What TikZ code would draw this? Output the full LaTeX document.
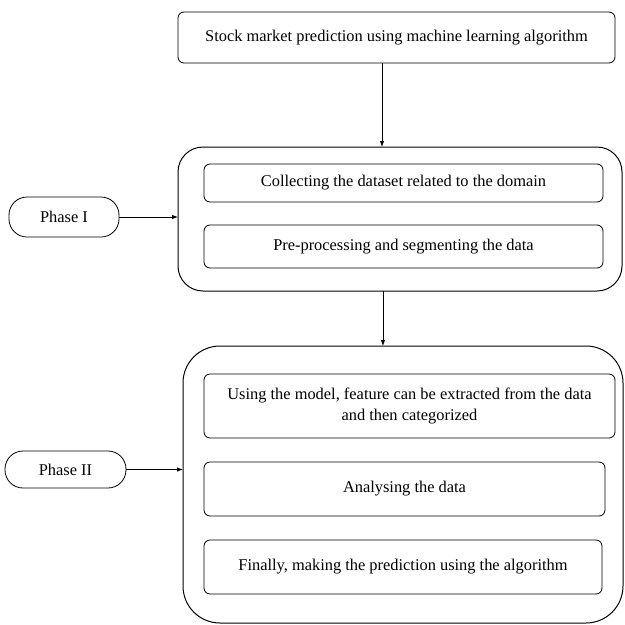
\documentclass[tikz,border=0pt]{standalone}
\usepackage{fontspec}
\setmainfont{Liberation Serif}
\usetikzlibrary{arrows.meta}
\begin{document}
\begin{tikzpicture}[x=1pt,y=-1pt,
  every node/.style={inner sep=0pt, outer sep=0pt, font=\fontsize{16.4}{21}\selectfont},
  box/.style={draw, line width=0.8pt, rounded corners=6pt, anchor=north west, align=center},
  container/.style={draw, line width=1pt, anchor=north west},
  phase/.style={draw, line width=0.8pt, rounded corners=18pt, anchor=north west},
  arr/.style={-{Latex[length=6pt,width=4.5pt]}, line width=0.8pt}]
\useasboundingbox (0,0) rectangle (625,625);
% top box
\node[box, minimum width=437pt, minimum height=51pt] (top) at (178,12) {Stock market prediction using machine learning algorithm};
% Phase I
\node[container, rounded corners=25pt, minimum width=444pt, minimum height=144pt] (p1) at (178,147) {};
\node[box, minimum width=399pt, minimum height=38pt] (b1) at (204,164) {Collecting the dataset related to the domain};
\node[box, minimum width=399pt, minimum height=43pt] (b2) at (204,225) {Pre-processing and segmenting the data};
\node[phase, minimum width=110pt, minimum height=40pt] (ph1) at (9,197) {Phase I};
% Phase II
\node[container, rounded corners=37pt, minimum width=440pt, minimum height=277pt] (p2) at (183,346) {};
\node[box, minimum width=411pt, minimum height=64pt] (b3) at (204,374) {Using the model, feature can be extracted from the data\\and then categorized};
\node[box, minimum width=401pt, minimum height=54pt] (b4) at (204,462) {Analysing the data};
\node[box, minimum width=398pt, minimum height=54pt] (b5) at (204,540) {Finally, making the prediction using the algorithm};
\node[phase, minimum width=121pt, minimum height=37pt] (ph2) at (5,451) {Phase II};
% connectors
\coordinate (c1) at (382,0);
\coordinate (c2) at (383,0);
\draw[arr] (top.south -| c1) -- (p1.north -| c1);
\draw[arr] (p1.south -| c2) -- (p2.north -| c2);
\draw[arr] (ph1.east) -- (ph1.east -| p1.west);
\draw[arr] (ph2.east) -- (ph2.east -| p2.west);
\end{tikzpicture}
\end{document}
